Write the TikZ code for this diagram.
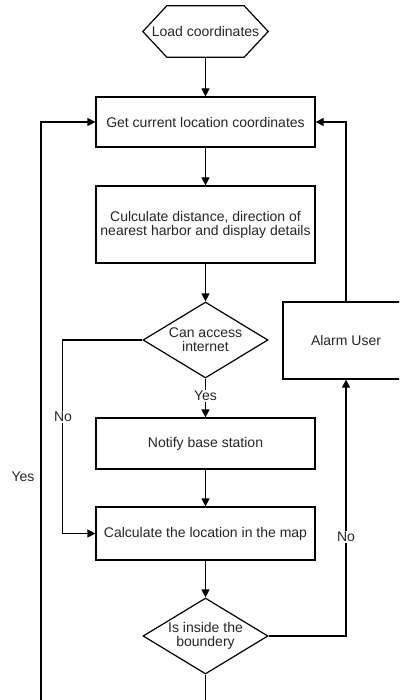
\documentclass[tikz,border=0pt]{standalone}
\usepackage{fontspec}
\setmainfont{Liberation Sans}
\usetikzlibrary{shapes.geometric,arrows.meta}
\begin{document}
\begin{tikzpicture}[x=1pt,y=-1pt,
  every node/.style={font=\fontsize{14}{14}\selectfont, text=black!85},
  box/.style={draw=black, line width=1.2pt, minimum width=219pt, inner sep=0pt, align=center},
  dia/.style={draw=black, diamond, aspect=1.64, line width=1.2pt, minimum width=125pt, minimum height=76pt, inner sep=0pt, align=center},
  lbl/.style={fill=white, inner sep=1pt},
  wire/.style={line width=1.2pt},
  conn/.style={line width=1.2pt, -{Triangle[length=8pt,width=8pt]}}]
\clip (0,0) rectangle (399,700);
\fill[white] (0,0) rectangle (399,700);
% nodes
\node[minimum width=125pt, minimum height=51pt, inner sep=0pt] (hex) at (205.5,31.5) {Load coordinates};
\draw[wire] (hex.west) -- ([xshift=24pt]hex.north west) -- ([xshift=-24pt]hex.north east) -- (hex.east) -- ([xshift=-24pt]hex.south east) -- ([xshift=24pt]hex.south west) -- cycle;
\node[box, minimum height=50pt] (get) at (205.5,122) {Get current location coordinates};
\node[box, minimum height=77pt] (calc) at (205.5,224.5) {Culculate distance, direction of\\nearest harbor and display details};
\node[dia] (d1) at (205.5,340) {Can access\\internet};
\node[draw=black, line width=1.2pt, minimum width=126pt, minimum height=77pt, inner sep=0pt] (alarm) at (346,340.5) {Alarm User};
\node[box, minimum height=51pt] (notify) at (205.5,443.5) {Notify base station};
\node[box, minimum height=53pt] (loc) at (205.5,533.5) {Calculate the location in the map};
\node[dia] (d2) at (205.5,636) {Is inside the\\boundery};
\coordinate (bot) at (41,712);
% connectors
\draw[conn] (hex.south) -- (get.north);
\draw[conn] (get.south) -- (calc.north);
\draw[conn] (calc.south) -- (d1.north);
\draw[conn] (d1.south) -- node[lbl, pos=0.45] {Yes} (notify.north);
\draw[conn] (d1.west) -- ++(-80,0) |- (loc.west);
\node[lbl] (no1) at (63,417) {No};
\draw[conn] (notify.south) -- (loc.north);
\draw[conn] (loc.south) -- (d2.north);
\draw[conn] (d2.east) -| (alarm.south);
\node[lbl] (no2) at (346,537) {No};
\draw[conn] (alarm.north) |- (get.east);
\draw[conn] (d2.south) |- (bot) |- (get.west);
\node (yes2) at (23,477) {Yes};
\end{tikzpicture}
\end{document}
